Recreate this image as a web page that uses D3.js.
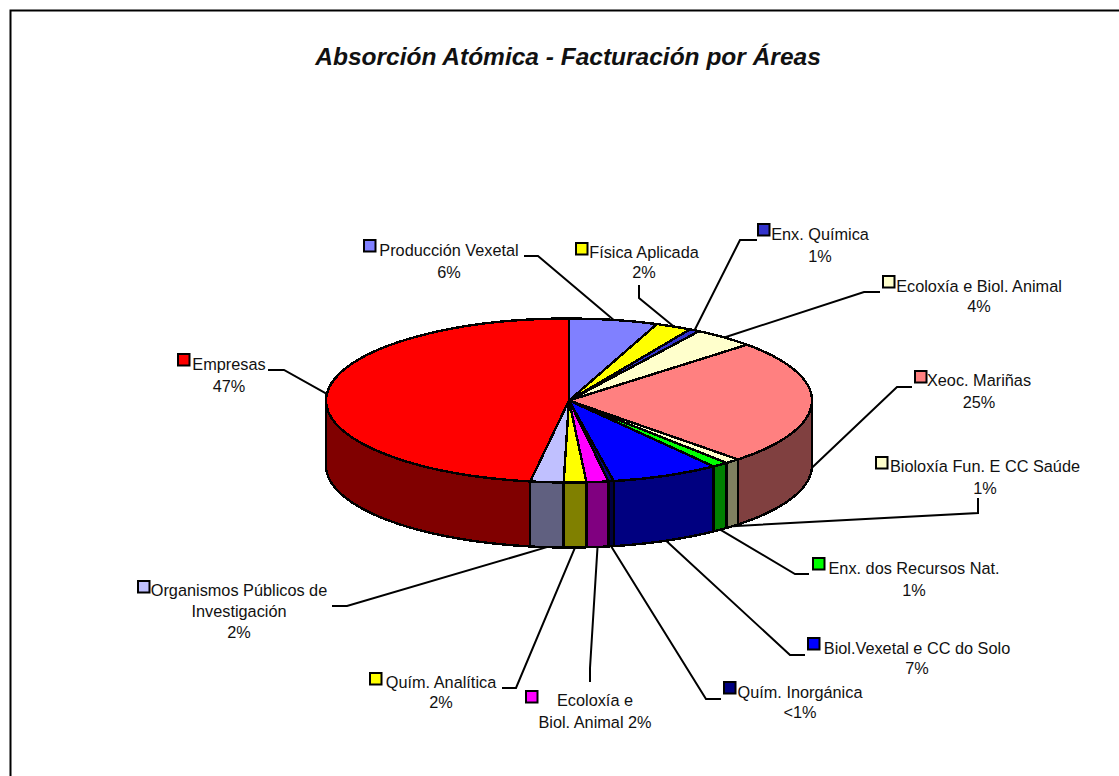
<!DOCTYPE html>
<html>
<head>
<meta charset="utf-8">
<script src="https://cdnjs.cloudflare.com/ajax/libs/d3/7.8.5/d3.min.js"></script>
<style>
	html, body { margin: 0; padding: 0; background: #fff; }
	svg { display: block; }
	text { font-family: "Liberation Sans", Arial, sans-serif; fill: #111; }
</style>
</head>
<body>
<svg id="chart" width="1119" height="776"></svg>
<script>
var title = "Absorción Atómica - Facturación por Áreas";

// share of each slice, clockwise from 12 o'clock
var areas = ["Producción Vexetal", "Física Aplicada", "Enx. Química", "Ecoloxía e Biol. Animal",
	"Xeoc. Mariñas", "Bioloxía Fun. E CC Saúde", "Enx. dos Recursos Nat.", "Biol.Vexetal e CC do Solo",
	"Quím. Inorgánica", "Ecoloxía e Biol. Animal 2", "Quím. Analítica", "Organismos Públicos de Investigación", "Empresas"];
var shares = [5.9, 2.4, 0.7, 4.1, 24.7, 1.0, 1.1, 7.2, 0.35, 1.45, 1.5, 2.2, 47.5];

// text lines printed next to each slice
var labelLines = [
	["Producción Vexetal", "6%"],
	["Física Aplicada", "2%"],
	["Enx. Química", "1%"],
	["Ecoloxía e Biol. Animal", "4%"],
	["Xeoc. Mariñas", "25%"],
	["Bioloxía Fun. E CC Saúde", "1%"],
	["Enx. dos Recursos Nat.", "1%"],
	["Biol.Vexetal e CC do Solo", "7%"],
	["Quím. Inorgánica", "<1%"],
	["Ecoloxía e", "Biol. Animal 2%"],
	["Quím. Analítica", "2%"],
	["Organismos Públicos de", "Investigación", "2%"],
	["Empresas", "47%"]
];

var topColors = ["#8080ff", "#ffff00", "#3333cc", "#ffffcc", "#ff8080", "#ffffcc", "#00ff00",
	"#0000ff", "#000080", "#ff00ff", "#ffff00", "#c0c0ff", "#ff0000"];
var sideColors = ["#404080", "#808000", "#1a1a66", "#808066", "#804040", "#808060", "#008000",
	"#000080", "#000040", "#800080", "#808000", "#606080", "#800000"];

// layout of the callouts: text centres and first baselines, key boxes, leader bends
var labelX = [449, 644, 820, 979, 979, 985, 914, 917, 800, 595, 441, 239, 229];
var labelY = [256, 258, 240, 292, 386, 472, 574, 654, 698, 706, 688, 596, 370];
var lineGap = [22, 20, 22, 20, 22, 22, 22, 20, 20, 22, 20, 21, 22];
var keyX = [364, 576, 758, 883, 915, 876, 813, 808, 724, 526, 370, 138, 178];
var keyY = [240, 243, 224, 276, 371, 457, 558, 638, 682, 691, 673, 581, 354];
var leaderBends = [
	[[524, 256], [538, 256]],
	[[639, 285], [639, 298]],
	[[757, 240], [740, 240]],
	[[880, 292], [864, 292]],
	[[912, 387], [897, 387]],
	[[978, 498], [978, 513]],
	[[809, 574], [795, 574]],
	[[805, 655], [790, 655]],
	[[721, 699], [706, 699]],
	[[590, 682], [590, 668]],
	[[502, 688], [516, 688]],
	[[332, 606], [347, 606]],
	[[268, 370], [284, 370]]
];

var cx = 569, cy = 400.5, rx = 243, ry = 82, depth = 65;
var svg = d3.select("#chart");

// frame, only top and left edges are in the shot
svg.append("path")
	.attr("d", "M10.5,776V10.5H1119")
	.attr("fill", "none")
	.attr("stroke", "#000")
	.attr("stroke-width", 2);

svg.append("text")
	.attr("x", 568)
	.attr("y", 65)
	.attr("text-anchor", "middle")
	.style("font-size", "24.5px")
	.style("font-weight", "bold")
	.style("font-style", "italic")
	.text(title);

var slices = d3.pie().sort(null).value(function(d) { return d; })(shares);

function rimX(a) { return cx + rx * Math.sin(a); }
function rimY(a) { return cy - ry * Math.cos(a); }

// side walls, only the front half of the disc shows them
var wall = d3.line();
var front = [Math.PI / 2, Math.PI * 1.5];

function wallPath(d) {
	var a0 = Math.max(d.startAngle, front[0]), a1 = Math.min(d.endAngle, front[1]);
	if (a1 <= a0) return null;
	var pts = d3.range(a0, a1, 0.01).concat([a1]);
	var lower = pts.map(function(a) { return [rimX(a), rimY(a) + depth]; });
	var upper = pts.slice().reverse().map(function(a) { return [rimX(a), rimY(a)]; });
	return wall(lower.concat(upper)) + "Z";
}

// crisp edges give the stepped rim of the original
var pie = svg.append("g").attr("class", "pie").attr("shape-rendering", "crispEdges");

pie.selectAll("path.side")
	.data(slices).enter().append("path")
	.attr("class", "side")
	.attr("d", wallPath)
	.attr("fill", function(d, i) { return sideColors[i]; })
	.attr("stroke", "#000")
	.attr("stroke-width", 2.4)
	.attr("stroke-linejoin", "round");

var arc = d3.arc().innerRadius(0).outerRadius(rx);

pie.append("g")
	.attr("transform", "translate(" + cx + "," + cy + ") scale(1," + (ry / rx) + ")")
	.selectAll("path.top")
	.data(slices).enter().append("path")
	.attr("class", "top")
	.attr("d", arc)
	.attr("fill", function(d, i) { return topColors[i]; })
	.attr("stroke", "#000")
	.attr("stroke-width", 2.4)
	.attr("stroke-linejoin", "round")
	.attr("vector-effect", "non-scaling-stroke");

// leaders run from the outer rim at the middle of each slice
function anchor(d) {
	var a = (d.startAngle + d.endAngle) / 2;
	var y = rimY(a);
	if (a > front[0] && a < front[1]) y += depth;
	return [rimX(a), y];
}

svg.append("g").selectAll("path")
	.data(slices).enter().append("path")
	.attr("d", function(d, i) { return d3.line()(leaderBends[i].concat([anchor(d)])); })
	.attr("fill", "none")
	.attr("stroke", "#000")
	.attr("stroke-width", 2);

svg.append("g").selectAll("rect")
	.data(slices).enter().append("rect")
	.attr("x", function(d, i) { return keyX[i]; })
	.attr("y", function(d, i) { return keyY[i]; })
	.attr("width", 11.5)
	.attr("height", 11.5)
	.attr("fill", function(d, i) { return topColors[i]; })
	.attr("stroke", "#000")
	.attr("stroke-width", 2);

var labels = svg.append("g").selectAll("text")
	.data(labelLines).enter().append("text")
	.attr("text-anchor", "middle")
	.style("font-size", "16.3px");

labels.selectAll("tspan")
	.data(function(d, i) {
		return d.map(function(t, j) { return { t: t, x: labelX[i], y: labelY[i] + j * lineGap[i] }; });
	})
	.enter().append("tspan")
	.attr("x", function(d) { return d.x; })
	.attr("y", function(d) { return d.y; })
	.text(function(d) { return d.t; });
</script>
</body>
</html>
